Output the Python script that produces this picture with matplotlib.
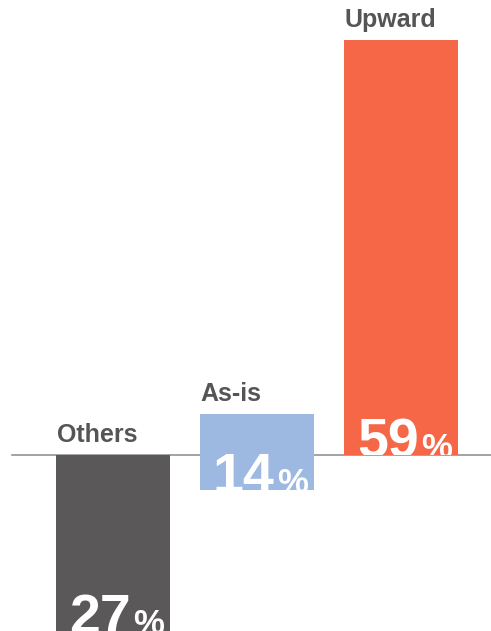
import matplotlib
matplotlib.use("Agg")
import matplotlib.pyplot as plt

plt.rcParams["font.family"] = ["Liberation Sans", "DejaVu Sans"]

# data
categories = ["Others", "As-is", "Upward"]
values = [27, 14, 59]            # shown percentages
bar_bottoms = [0, -5.0, 0]       # bar extents on the chart (in % units)
bar_tops = [-27, 5.8, 59]
colors = ["#5a5859", "#9db8e1", "#f56746"]

fig = plt.figure(figsize=(4.91, 6.31), dpi=100)
ax = fig.add_axes([0, 0, 1, 1])
ax.set_xlim(-0.785, 2.625)
ax.set_ylim(-25.03, 64.72)
ax.axis("off")

w = 0.79
ax.axhline(0, xmin=(-0.70 + 0.785) / 3.41, xmax=1, color="#8a8a8a", lw=1.1, zorder=1)

fig.canvas.draw()
r = fig.canvas.get_renderer()
for i, (cat, v, b, t, c) in enumerate(zip(categories, values, bar_bottoms, bar_tops, colors)):
    lo, hi = min(b, t), max(b, t)
    bar = ax.bar(i, hi - lo, w, bottom=lo, color=c, zorder=2)[0]
    # category label above bar top
    ax.annotate(cat, (i - w / 2, hi), xytext=(0.5, 9.5), textcoords="offset points",
                ha="left", va="baseline", fontsize=18, fontweight="bold", color="#555555")
    # percentage inside bar, at its lower end (clipped by bar)
    ylab = max(lo, ax.get_ylim()[0])
    pct = ax.annotate("%", (i + w / 2, ylab), xytext=(-4, -2), textcoords="offset points",
                      ha="right", va="baseline", fontsize=25, fontweight="bold",
                      color="white", zorder=3)
    pct.set_clip_path(bar)
    bb = pct.get_window_extent(r)
    pw = bb.width * 72 / fig.dpi
    num = ax.annotate(str(v), (i + w / 2, ylab), xytext=(-4 - pw - 2, -1.5),
                      textcoords="offset points", ha="right", va="baseline",
                      fontsize=40, fontweight="bold", color="white", zorder=3)
    num.set_clip_path(bar)

fig.savefig("out.png", dpi=100)
